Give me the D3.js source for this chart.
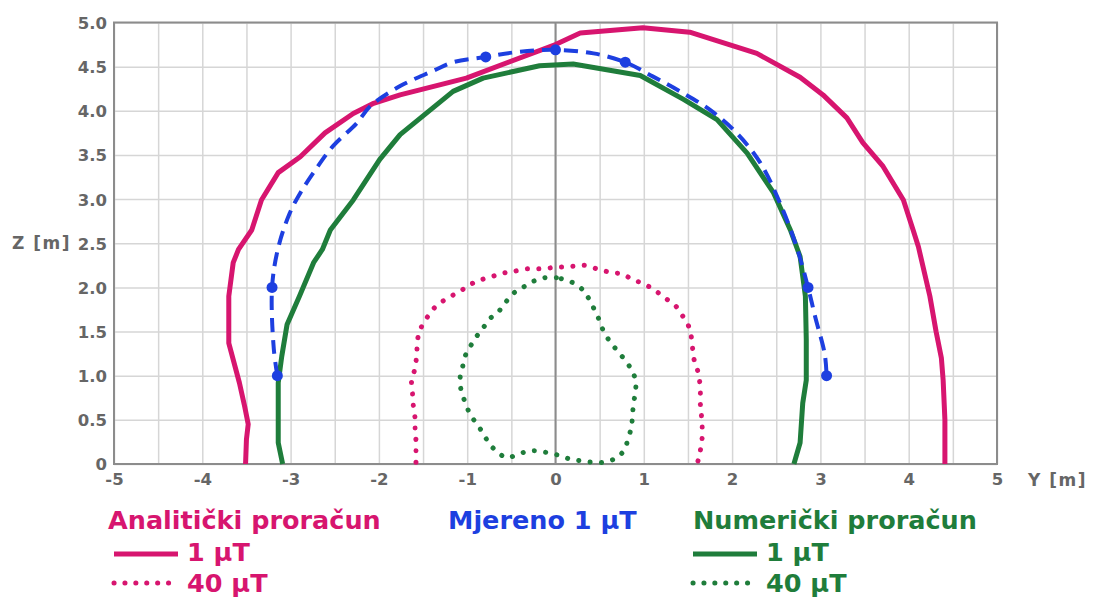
<!DOCTYPE html>
<html>
<head>
<meta charset="utf-8">
<script src="https://cdn.jsdelivr.net/npm/d3@7"></script>
<style>
  body { margin: 0; background: #fff; }
  svg { display: block; font-family: "DejaVu Sans", Verdana, sans-serif; font-weight: bold; }
  .grid line { stroke: #d6d6d6; stroke-width: 1.5; }
  .grid path { display: none; }
</style>
</head>
<body>
<svg width="1094" height="599"></svg>
<script>
// Y [m], Z [m] pairs
var analytic1uT = [
  [-3.51, 0], [-3.50, 0.28], [-3.48, 0.45], [-3.52, 0.65], [-3.58, 0.92], [-3.70, 1.37],
  [-3.70, 1.9], [-3.65, 2.28], [-3.59, 2.43], [-3.44, 2.65], [-3.33, 2.99], [-3.14, 3.30],
  [-2.89, 3.48], [-2.61, 3.75], [-2.29, 3.97], [-2.07, 4.08], [-1.76, 4.18], [-1.01, 4.37],
  [0.0, 4.75], [0.28, 4.88], [0.99, 4.94], [1.52, 4.89], [2.28, 4.65], [2.77, 4.38],
  [3.03, 4.18], [3.30, 3.92], [3.48, 3.64], [3.71, 3.37], [3.94, 2.99], [4.05, 2.65],
  [4.11, 2.46], [4.24, 1.9], [4.31, 1.5], [4.37, 1.2], [4.39, 0.95], [4.41, 0.5], [4.41, 0]
];

var analytic40uT = [
  [-1.58, 0.02], [-1.58, 0.14], [-1.58, 0.26], [-1.59, 0.39], [-1.59, 0.51], [-1.61, 0.66],
  [-1.62, 0.81], [-1.63, 0.94], [-1.60, 1.05], [-1.58, 1.16], [-1.57, 1.28], [-1.56, 1.42],
  [-1.52, 1.55], [-1.44, 1.68], [-1.35, 1.79], [-1.22, 1.88], [-1.09, 1.95], [-0.97, 2.03],
  [-0.86, 2.08], [-0.73, 2.12], [-0.60, 2.16], [-0.48, 2.18], [-0.33, 2.21], [-0.19, 2.21],
  [-0.07, 2.22], [0.05, 2.23], [0.19, 2.24], [0.33, 2.25], [0.50, 2.20], [0.63, 2.17],
  [0.76, 2.15], [0.87, 2.09], [1.00, 2.04], [1.12, 1.97], [1.24, 1.88], [1.36, 1.79],
  [1.45, 1.66], [1.52, 1.53], [1.55, 1.33], [1.57, 1.18], [1.62, 1.02], [1.64, 0.83],
  [1.64, 0.69], [1.65, 0.58], [1.66, 0.45], [1.66, 0.29], [1.64, 0.15], [1.61, 0.02]
];

var numeric1uT = [
  [-3.09, 0.0], [-3.14, 0.24], [-3.14, 0.92], [-3.10, 1.22], [-3.04, 1.58], [-2.90, 1.9],
  [-2.74, 2.28], [-2.64, 2.43], [-2.55, 2.65], [-2.29, 2.99], [-1.99, 3.45], [-1.76, 3.73],
  [-1.16, 4.22], [-0.82, 4.37], [-0.18, 4.51], [0.20, 4.53], [0.96, 4.40], [1.45, 4.13],
  [1.83, 3.90], [2.17, 3.52], [2.47, 3.07], [2.66, 2.65], [2.77, 2.35], [2.83, 1.90],
  [2.84, 1.41], [2.84, 0.95], [2.80, 0.69], [2.77, 0.24], [2.70, 0.0]
];

var numeric40uT = [
  [0.01, 2.11], [-0.12, 2.11], [-0.25, 2.07], [-0.37, 2.00], [-0.48, 1.93], [-0.58, 1.81],
  [-0.65, 1.72], [-0.75, 1.64], [-0.82, 1.54], [-0.89, 1.45], [-0.96, 1.34], [-1.02, 1.23],
  [-1.05, 1.11], [-1.08, 0.98], [-1.07, 0.84], [-1.02, 0.69], [-0.97, 0.57], [-0.89, 0.45],
  [-0.82, 0.35], [-0.75, 0.23], [-0.65, 0.13], [-0.55, 0.07], [-0.45, 0.10], [-0.33, 0.14],
  [-0.23, 0.15], [-0.10, 0.13], [0.03, 0.10], [0.15, 0.06], [0.26, 0.04], [0.41, 0.02],
  [0.55, 0.02], [0.69, 0.07], [0.78, 0.16], [0.82, 0.28], [0.86, 0.42], [0.87, 0.52],
  [0.88, 0.65], [0.90, 0.79], [0.91, 0.93], [0.87, 1.05], [0.80, 1.16], [0.71, 1.27],
  [0.63, 1.37], [0.55, 1.49], [0.50, 1.62], [0.44, 1.75], [0.39, 1.85], [0.34, 1.93],
  [0.28, 2.00], [0.16, 2.07], [0.01, 2.11]
];

// measured curve as drawn, and the measured points themselves
var measuredLine = [
  [-3.15, 1.0], [-3.19, 1.3], [-3.21, 2.0], [-3.14, 2.45], [-3.01, 2.84], [-2.89, 3.07],
  [-2.72, 3.33], [-2.52, 3.60], [-2.25, 3.86], [-2.10, 4.05], [-1.76, 4.28], [-1.39, 4.45],
  [-1.16, 4.55], [-0.79, 4.61], [-0.40, 4.67], [0, 4.69], [0.43, 4.65], [0.79, 4.55],
  [1.10, 4.39], [1.41, 4.22], [1.75, 4.01], [2.05, 3.75], [2.32, 3.41], [2.54, 2.96],
  [2.73, 2.46], [2.86, 2.0], [2.94, 1.67], [3.05, 1.24], [3.07, 1.0]
];
var measuredPoints = [[-3.15, 1.0], [-3.21, 2.0], [-0.79, 4.61], [0, 4.69], [0.79, 4.55], [2.86, 2.0], [3.07, 1.0]];

var xTicks = [-5, -4, -3, -2, -1, 0, 1, 2, 3, 4, 5];
var yTicks = [0, 0.5, 1, 1.5, 2, 2.5, 3, 3.5, 4, 4.5, 5];
var gridSteps = d3.range(-5, 5.01, 0.5);

var pink = "#d7156f", green = "#1f7d3b", blue = "#1d3fe0";

var svg = d3.select("svg");
var margin = { left: 114, right: 97, top: 22.5, bottom: 135 };
var width = 1094 - margin.left - margin.right;
var height = 599 - margin.top - margin.bottom;

var x = d3.scaleLinear().domain([-5, 5]).range([margin.left, margin.left + width]);
var y = d3.scaleLinear().domain([0, 5]).range([margin.top + height, margin.top]);

// grid
svg.append("g")
  .attr("class", "grid")
  .attr("transform", "translate(0," + (margin.top + height) + ")")
  .call(d3.axisBottom(x).tickValues(gridSteps).tickSize(-height).tickFormat(""));
svg.append("g")
  .attr("class", "grid")
  .attr("transform", "translate(" + margin.left + ",0)")
  .call(d3.axisLeft(y).tickValues(d3.range(0, 5.01, 0.5)).tickSize(-width).tickFormat(""));

// frame and zero line
svg.append("rect")
  .attr("x", margin.left).attr("y", margin.top)
  .attr("width", width).attr("height", height)
  .attr("fill", "none").attr("stroke", "#8c8c8c").attr("stroke-width", 2);
svg.append("line")
  .attr("x1", x(0)).attr("x2", x(0))
  .attr("y1", y(0)).attr("y2", y(5))
  .attr("stroke", "#8c8c8c").attr("stroke-width", 2);

// axes labels
var xAxis = svg.append("g")
  .attr("transform", "translate(0," + (margin.top + height) + ")")
  .call(d3.axisBottom(x).tickValues(xTicks).tickSize(0).tickPadding(9).tickFormat(function (d) { return String(d); }));
xAxis.select(".domain").remove();

var yAxis = svg.append("g")
  .attr("transform", "translate(" + (margin.left - 7) + ",0)")
  .call(d3.axisLeft(y).tickValues(yTicks).tickSize(0).tickPadding(0)
    .tickFormat(function (d) { return d === 0 ? "0" : d3.format(".1f")(d); }));
yAxis.select(".domain").remove();
yAxis.selectAll("text").attr("dy", "0.36em");

[xAxis, yAxis].forEach(function (a) {
  a.attr("font-family", null).attr("font-size", null);
  a.selectAll("text")
    .attr("fill", "#666")
    .style("font-family", "'DejaVu Sans', Verdana, sans-serif")
    .style("font-weight", "bold")
    .style("font-size", "16.5px");
});

svg.append("text").attr("x", 12).attr("y", y(2.5) + 6)
  .attr("fill", "#666").attr("font-size", 17).attr("letter-spacing", 1.5).text("Z [m]");
svg.append("text").attr("x", 1028).attr("y", margin.top + height + 22)
  .attr("fill", "#666").attr("font-size", 17).attr("letter-spacing", 1.5).text("Y [m]");

// curves
var line = d3.line()
  .x(function (d) { return x(d[0]); })
  .y(function (d) { return y(d[1]); });
var smooth = d3.line()
  .x(function (d) { return x(d[0]); })
  .y(function (d) { return y(d[1]); })
  .curve(d3.curveCatmullRom);

svg.append("path").datum(analytic40uT)
  .attr("d", smooth).attr("fill", "none").attr("stroke", pink)
  .attr("stroke-width", 5).attr("stroke-linecap", "round").attr("stroke-dasharray", "0.1 11.3");
svg.append("path").datum(numeric40uT)
  .attr("d", smooth).attr("fill", "none").attr("stroke", green)
  .attr("stroke-width", 5).attr("stroke-linecap", "round").attr("stroke-dasharray", "0.1 11.3");

svg.append("path").datum(analytic1uT)
  .attr("d", line).attr("fill", "none").attr("stroke", pink)
  .attr("stroke-width", 5).attr("stroke-linejoin", "round");
svg.append("path").datum(numeric1uT)
  .attr("d", line).attr("fill", "none").attr("stroke", green)
  .attr("stroke-width", 5).attr("stroke-linejoin", "round");

svg.append("path").datum(measuredLine)
  .attr("d", smooth).attr("fill", "none").attr("stroke", blue)
  .attr("stroke-width", 4).attr("stroke-dasharray", "14 8");
svg.selectAll(".dot")
  .data(measuredPoints)
  .enter().append("circle")
  .attr("class", "dot")
  .attr("cx", function (d) { return x(d[0]); })
  .attr("cy", function (d) { return y(d[1]); })
  .attr("r", 5.5)
  .attr("fill", blue);

// legend
function legendGroup(x0, title, color, sampleX) {
  var g = svg.append("g").attr("fill", color).attr("font-size", 25.5);
  g.append("text").attr("x", x0).attr("y", 529).text(title);
  if (sampleX == null) return;
  g.append("line").attr("x1", sampleX).attr("x2", sampleX + 64).attr("y1", 554).attr("y2", 554)
    .attr("stroke", color).attr("stroke-width", 5);
  g.append("text").attr("x", sampleX + 73).attr("y", 561).text("1 µT");
  g.append("line").attr("x1", sampleX).attr("x2", sampleX + 65).attr("y1", 583).attr("y2", 583)
    .attr("stroke", color).attr("stroke-width", 5).attr("stroke-linecap", "round")
    .attr("stroke-dasharray", "0.1 10.8");
  g.append("text").attr("x", sampleX + 73).attr("y", 592).text("40 µT");
}
legendGroup(108, "Analitički proračun", pink, 114);
legendGroup(448, "Mjereno 1 µT", blue, null);
legendGroup(693, "Numerički proračun", green, 693);
</script>
</body>
</html>
